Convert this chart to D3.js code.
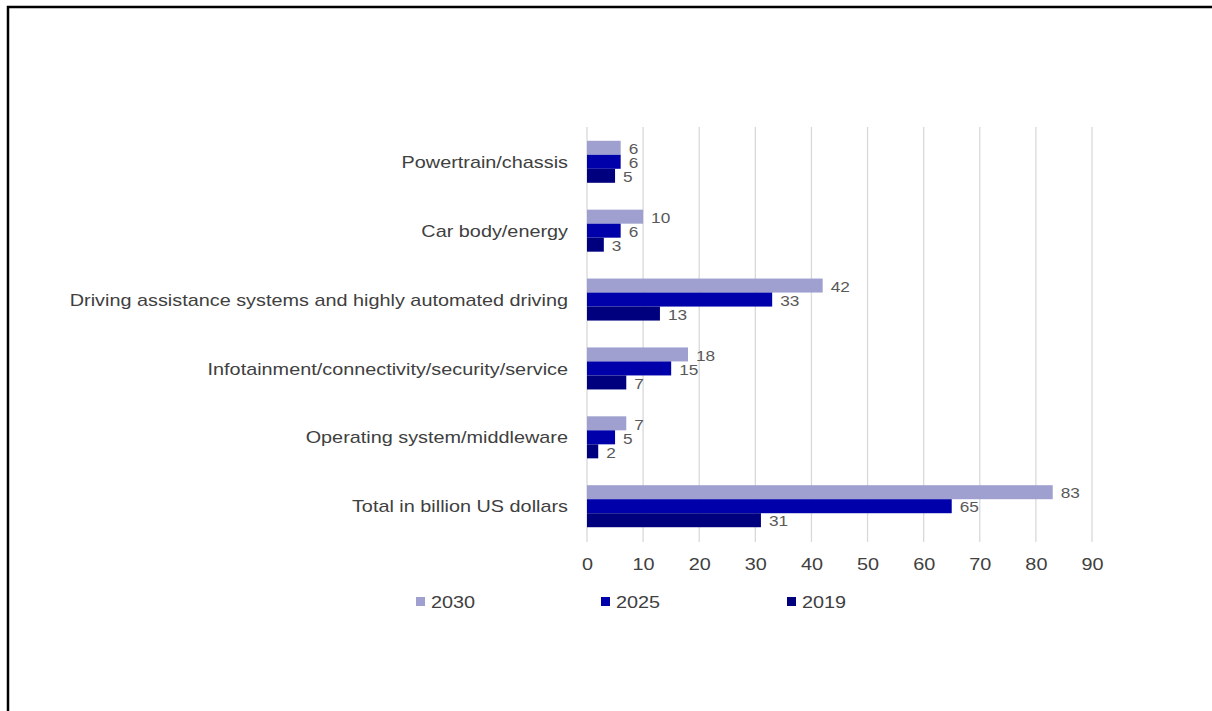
<!DOCTYPE html>
<html>
<head>
<meta charset="utf-8">
<script src="https://cdn.jsdelivr.net/npm/d3@7"></script>
<style>
  body { margin: 0; background: #fff; }
  svg { display: block; font-family: "Liberation Sans", Arial, sans-serif; }
</style>
</head>
<body>
<script>
var categories = [
  "Powertrain/chassis",
  "Car body/energy",
  "Driving assistance systems and highly automated driving",
  "Infotainment/connectivity/security/service",
  "Operating system/middleware",
  "Total in billion US dollars"
];
var seriesNames = ["2030", "2025", "2019"];
var values2030 = [6, 10, 42, 18, 7, 83];
var values2025 = [6, 6, 33, 15, 5, 65];
var values2019 = [5, 3, 13, 7, 2, 31];
var xTicks = [0, 10, 20, 30, 40, 50, 60, 70, 80, 90];

var colors = {"2030": "#9fa0cf", "2025": "#0000aa", "2019": "#00007f"};

var width = 1212, height = 711;
// the source picture is stretched sideways, so text is too
var stretch = 1.24;

var data = categories.map(function(c, i) {
  return {cat: c, "2030": values2030[i], "2025": values2025[i], "2019": values2019[i]};
});

var svg = d3.select("body").append("svg")
    .attr("width", width)
    .attr("height", height);

// frame (top and left edges only, like a cropped screenshot)
svg.append("path")
    .attr("d", "M8,711 V7 H1212")
    .attr("fill", "none")
    .attr("stroke", "#000")
    .attr("stroke-width", 2.5);

var x = d3.scaleLinear().domain([0, 90]).range([587, 1092]);

var y0 = d3.scaleBand()
    .domain(categories)
    .range([127, 541])
    .paddingInner(0.39)
    .paddingOuter(0.2);

var y1 = d3.scaleBand()
    .domain(seriesNames)
    .range([0, y0.bandwidth()]);

// gridlines
svg.append("g")
    .selectAll("line")
    .data(xTicks)
  .enter().append("line")
    .attr("x1", function(d) { return x(d); })
    .attr("x2", function(d) { return x(d); })
    .attr("y1", 127)
    .attr("y2", 542)
    .attr("stroke", "#d9d9d9")
    .attr("stroke-width", 1.3);

// x axis labels
var xAxis = d3.axisBottom(x).tickValues(xTicks).tickSize(0).tickPadding(0);
var gx = svg.append("g")
    .attr("transform", "translate(0,559)")
    .call(xAxis);
gx.select(".domain").remove();
gx.selectAll("text")
    .attr("font-size", 16)
    .attr("font-family", "Liberation Sans, Arial, sans-serif")
    .attr("fill", "#404040")
    .attr("transform", "scale(" + stretch + ",1)");

// category labels
var yAxis = d3.axisLeft(y0).tickSize(0).tickPadding(0);
var gy = svg.append("g")
    .attr("transform", "translate(568,1)")
    .call(yAxis);
gy.select(".domain").remove();
gy.selectAll("text")
    .attr("font-size", 16)
    .attr("font-family", "Liberation Sans, Arial, sans-serif")
    .attr("fill", "#404040")
    .attr("transform", "scale(" + stretch + ",1)");

// bars
var groups = svg.append("g")
    .selectAll("g")
    .data(data)
  .enter().append("g")
    .attr("transform", function(d) { return "translate(0," + y0(d.cat) + ")"; });

var cells = groups.selectAll("g")
    .data(function(d) { return seriesNames.map(function(s) { return {key: s, value: d[s]}; }); })
  .enter().append("g");

cells.append("rect")
    .attr("x", x(0))
    .attr("y", function(d) { return y1(d.key); })
    .attr("width", function(d) { return x(d.value) - x(0); })
    .attr("height", y1.bandwidth())
    .attr("fill", function(d) { return colors[d.key]; });

cells.append("text")
    .attr("transform", function(d) {
      return "translate(" + (x(d.value) + 8) + "," + (y1(d.key) + y1.bandwidth() / 2 + 1) + ") scale(1.15,1)";
    })
    .attr("dy", "0.35em")
    .attr("font-size", 15)
    .attr("fill", "#595959")
    .text(function(d) { return d.value; });

// legend
var legendX = [416, 601, 787];
var legend = svg.append("g")
    .selectAll("g")
    .data(seriesNames)
  .enter().append("g")
    .attr("transform", function(d, i) { return "translate(" + legendX[i] + ",597)"; });

legend.append("rect")
    .attr("width", 9)
    .attr("height", 9)
    .attr("fill", function(d) { return colors[d]; });

legend.append("text")
    .attr("transform", "translate(15,5) scale(" + stretch + ",1)")
    .attr("dy", "0.35em")
    .attr("font-size", 16)
    .attr("fill", "#404040")
    .text(function(d) { return d; });
</script>
</body>
</html>
